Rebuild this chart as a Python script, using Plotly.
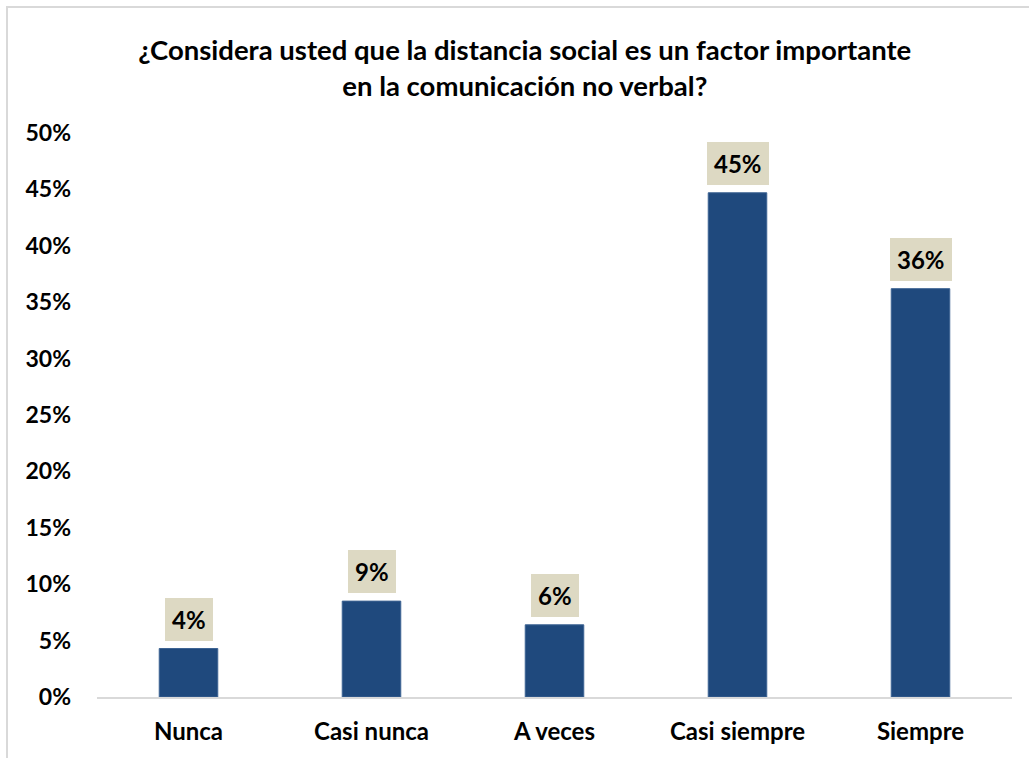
import plotly.graph_objects as go

categories = ["Nunca", "Casi nunca", "A veces", "Casi siempre", "Siempre"]
values = [4.3, 8.5, 6.4, 44.7, 36.2]
labels = ["4%", "9%", "6%", "45%", "36%"]
y_ticks = [0, 5, 10, 15, 20, 25, 30, 35, 40, 45, 50]
y_tick_text = [f"{v}%" for v in y_ticks]

FONT = "Lato"
BAR = "#1F497D"
LABEL_BG = "#DDD9C3"

fig = go.Figure()
fig.add_trace(go.Bar(
    x=categories, y=values, width=0.32,
    marker=dict(color=BAR, line=dict(color="#3E6494", width=1)),
    hoverinfo="skip",
))

for c, v, t in zip(categories, values, labels):
    fig.add_annotation(
        x=c, y=v, text=f"<b>{t}</b>", showarrow=False,
        xref="x", yref="y", yanchor="bottom", yshift=8,
        bgcolor=LABEL_BG, borderpad=7, borderwidth=0,
        font=dict(family=FONT, size=24, color="#000000"),
    )

fig.update_layout(
    width=1029, height=758,
    margin=dict(l=97, r=17, t=133, b=61, autoexpand=False),
    paper_bgcolor="white", plot_bgcolor="white",
    showlegend=False,
    title=dict(
        text="<b>¿Considera usted que la distancia social es un factor importante<br>en la comunicación no verbal?</b>",
        x=0.51, xanchor="center", xref="container",
        y=1 - 60 / 758, yanchor="top", yref="container",
        font=dict(family=FONT, size=27.5, color="#000000"),
    ),
    font=dict(family=FONT, color="#000000"),
    xaxis=dict(
        range=[-0.5, 4.5], automargin=False,
        showline=True, linecolor="#D9D9D9", linewidth=2,
        showgrid=False, ticks="", ticklabelstandoff=12,
        tickfont=dict(family=FONT, size=24, color="#000000", weight="bold"),
    ),
    yaxis=dict(
        range=[0, 50], tickvals=y_ticks, ticktext=y_tick_text, automargin=False,
        showline=False, showgrid=False, zeroline=False, ticks="",
        ticklabelstandoff=25,
        tickfont=dict(family=FONT, size=23, color="#000000", weight="bold"),
    ),
    shapes=[dict(
        type="rect", xref="paper", yref="paper",
        x0=(7 - 97) / 915, x1=1.2, y0=-0.3, y1=(697 - 7) / 564,
        line=dict(color="#D9D9D9", width=2), fillcolor="rgba(0,0,0,0)",
        layer="below",
    )],
)

fig.write_html(
    "out.html",
    config={"displayModeBar": False},
    post_script="document.body.style.margin='0px';",
)
